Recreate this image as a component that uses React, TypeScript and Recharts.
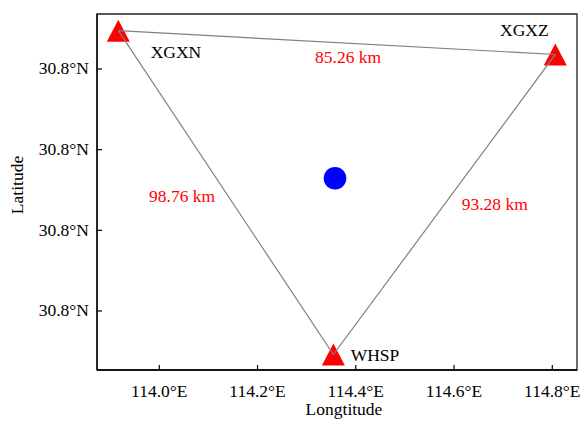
import { ScatterChart, Scatter, XAxis, YAxis, ReferenceArea, Label } from 'recharts'

const stationNames = ['XGXN', 'XGXZ', 'WHSP']
const stationLon = [113.9166, 114.8061, 114.3544]
const stationLat = [30.8295, 30.8236, 30.7492]

const epicenterLon = [114.3577]
const epicenterLat = [30.7929]

// name labels, anchored at their left baseline
const nameLabelLon = [113.9825, 114.6936, 114.3896]
const nameLabelLat = [30.8226, 30.8282, 30.7476]

const distanceText = ['85.26 km', '98.76 km', '93.28 km']
const distanceLon = [114.317, 113.9791, 114.6156]
const distanceLat = [30.8214, 30.7871, 30.785]

const xTicks = [114.0, 114.2, 114.4, 114.6, 114.8]
const yTicks = [30.76, 30.78, 30.8, 30.82]
const xDomain = [113.8732, 114.8503]
const yDomain = [30.74537, 30.83363]

const FONT = 'Liberation Serif'
const FS = 17.5

const stations = stationNames.map((name, i) => ({ name, lon: stationLon[i], lat: stationLat[i] }))
const outline = [...stations, stations[0]]
const epicenter = epicenterLon.map((lon, i) => ({ lon, lat: epicenterLat[i] }))
const nameLabels = stationNames.map((text, i) => ({ text, lon: nameLabelLon[i], lat: nameLabelLat[i] }))
const distLabels = distanceText.map((text, i) => ({ text, lon: distanceLon[i], lat: distanceLat[i] }))

const Triangle = (props: any) => {
    const { cx, cy } = props
    const h = 11
    const w = 11.5
    return <polygon points={`${cx},${cy - h} ${cx - w},${cy + h} ${cx + w},${cy + h}`} fill="#ff0000" />
}

const Dot = (props: any) => <circle cx={props.cx} cy={props.cy} r={11.3} fill="#0000ff" />

const makeText = (color: string) => (props: any) => (
    <text x={props.cx} y={props.cy} fill={color} style={{ fontFamily: FONT, fontSize: FS }} textAnchor="start">
        {props.payload.text}
    </text>
)

// tick labels drawn by hand so the serif font sticks
const XTick = (props: any) => (
    <text x={props.x} y={props.y + 12.4} textAnchor="middle" fill="#000" style={{ fontFamily: FONT, fontSize: FS }}>
        {`${props.payload.value.toFixed(1)}°E`}
    </text>
)

const YTick = (props: any) => (
    <text x={props.x} y={props.y + 5.5} textAnchor="end" fill="#000" style={{ fontFamily: FONT, fontSize: FS }}>
        {`${props.payload.value.toFixed(1)}°N`}
    </text>
)

const Nothing = () => <g />

export default function App() {
    return (
        <div style={{ position: 'absolute', left: 0, top: 0, background: '#fff', fontFamily: FONT }}>
            <ScatterChart
                width={582}
                height={421}
                margin={{ top: 14, right: 5, bottom: 0, left: 0 }}
                style={{ fontFamily: FONT }}
            >
                <XAxis
                    type="number"
                    dataKey="lon"
                    domain={xDomain}
                    ticks={xTicks}
                    interval={0}
                    allowDataOverflow
                    height={51}
                    tickSize={-5}
                    tickMargin={19.3}
                    tick={<XTick />}
                    tickLine={{ stroke: '#000', strokeWidth: 1.2 }}
                    axisLine={{ stroke: '#000', strokeWidth: 1.3 }}
                >
                    <Label
                        content={() => (
                            <text x={344} y={415} textAnchor="middle" fill="#000" style={{ fontFamily: FONT, fontSize: FS }}>
                                Longtitude
                            </text>
                        )}
                    />
                </XAxis>
                <YAxis
                    type="number"
                    dataKey="lat"
                    domain={yDomain}
                    ticks={yTicks}
                    interval={0}
                    allowDataOverflow
                    width={97}
                    tickSize={-5}
                    tickMargin={13}
                    tick={<YTick />}
                    tickLine={{ stroke: '#000', strokeWidth: 1.2 }}
                    axisLine={{ stroke: '#000', strokeWidth: 1.3 }}
                >
                    <Label
                        content={() => (
                            <text
                                x={23}
                                y={185}
                                transform="rotate(-90 23 185)"
                                textAnchor="middle"
                                fill="#000"
                                style={{ fontFamily: FONT, fontSize: FS }}
                            >
                                Latitude
                            </text>
                        )}
                    />
                </YAxis>
                <ReferenceArea
                    x1={xDomain[0]}
                    x2={xDomain[1]}
                    y1={yDomain[0]}
                    y2={yDomain[1]}
                    fill="none"
                    stroke="#222"
                    strokeWidth={1.3}
                />
                <Scatter data={stations} shape={Triangle} isAnimationActive={false} />
                <Scatter
                    data={outline}
                    shape={Nothing}
                    line={{ stroke: '#808080', strokeWidth: 1.2 }}
                    isAnimationActive={false}
                />
                <Scatter data={epicenter} shape={Dot} isAnimationActive={false} />
                <Scatter data={nameLabels} shape={makeText('#000')} isAnimationActive={false} />
                <Scatter data={distLabels} shape={makeText('#ff0000')} isAnimationActive={false} />
            </ScatterChart>
        </div>
    )
}
